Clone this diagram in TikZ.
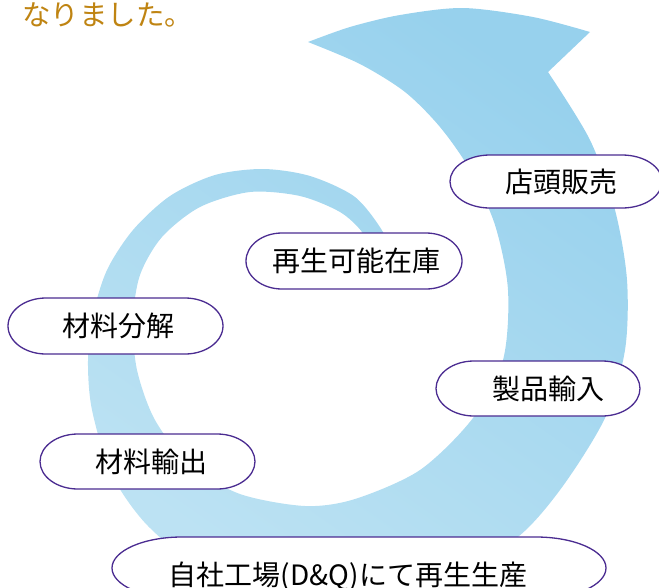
\documentclass[tikz,border=0pt]{standalone}
\usepackage{fontspec}
\newfontfamily\jpfont{Noto Sans CJK JP}
\definecolor{bandtop}{HTML}{97D1ED}
\definecolor{bandbot}{HTML}{BCE2F3}
\definecolor{capline}{HTML}{4B2C91}
\definecolor{titlecol}{HTML}{BF8412}
\tikzset{
  capborder/.style={draw=capline, fill=white, line width=1.3pt},
  labeltext/.style={font=\jpfont\fontsize{28}{30}\selectfont, text=black, inner sep=0pt},
  titletext/.style={font=\jpfont\fontsize{28.5}{30}\selectfont, text=titlecol, inner sep=0pt},
  bandfill/.style={shade, top color=bandtop, bottom color=bandbot, shading angle=-35, draw=none}
}
% #1 name, #2 cx, #3 cy, #4 w, #5 h, #6 rx, #7 text dx, #8 text dy, #9 text
\newcommand\capsule[9]{%
  \pgfmathsetmacro\capXL{#2-#4/2}\pgfmathsetmacro\capXR{#2+#4/2}%
  \pgfmathsetmacro\capYT{#3-#5/2}\pgfmathsetmacro\capYB{#3+#5/2}%
  \pgfmathsetmacro\capXA{\capXL+#6}\pgfmathsetmacro\capXB{\capXR-#6}%
  \pgfmathsetmacro\capKA{0.5523*#6}\pgfmathsetmacro\capKB{0.5523*#5/2}%
  \path[capborder] (\capXA,\capYT) -- (\capXB,\capYT)
    .. controls (\capXB+\capKA,\capYT) and (\capXR,#3-\capKB) .. (\capXR,#3)
    .. controls (\capXR,#3+\capKB) and (\capXB+\capKA,\capYB) .. (\capXB,\capYB)
    -- (\capXA,\capYB)
    .. controls (\capXA-\capKA,\capYB) and (\capXL,#3+\capKB) .. (\capXL,#3)
    .. controls (\capXL,#3-\capKB) and (\capXA-\capKA,\capYT) .. (\capXA,\capYT) -- cycle;
  \node[labeltext] (#1) at (#2+#7,#3+#8) {#9};%
}
\begin{document}
\begin{tikzpicture}[x=1pt,y=-1pt]
\useasboundingbox (0,0) rectangle (659,587);
% spiral arrow band
\path[bandfill]
  plot[smooth,tension=0.5] coordinates {
    (386,250) (383,232) (355,197) (310,176) (263,169) (215,175) (170,196)
    (133,230) (107,270) (93,315) (88,360) (92,410) (112,475) (150,528)
    (210,570) (330,592) (440,578) (514,540) (560,490) (605,418) (625,350)
    (627,280) (615,210) (590,140) (548,72)}
  -- plot[smooth,tension=0.5] coordinates {
    (590,32) (533,17) (463,8) (400,15) (350,27) (308,42)}
  -- plot[smooth,tension=0.5] coordinates {
    (308,42) (360,64) (405,92) (440,127) (470,170) (495,225) (508,290)
    (503,360) (473,418) (420,470) (355,499) (305,506) (240,494) (190,465)
    (155,420) (137,370) (133,320) (140,275) (162,237) (200,207) (250,192)
    (300,196) (340,212) (362,232) (368,250)}
  -- cycle;
% title
\node[titletext] (title) at (108,15) {なりました。};
% labels
\capsule{shop}{556}{181.5}{212}{53}{40}{5}{0}{店頭販売}
\capsule{stock}{354}{261}{216}{56}{36}{2}{0}{再生可能在庫}
\capsule{disasm}{115.5}{326}{215}{56}{38}{3}{0}{材料分解}
\capsule{export}{147.5}{461.5}{215}{55}{38}{4}{0}{材料輸出}
\capsule{import}{538}{388.5}{204}{55}{38}{10}{0}{製品輸入}
\capsule{factory}{359}{568}{494}{62}{70}{-11}{8}{自社工場(D\&Q)にて再生生産}
\end{tikzpicture}
\end{document}
